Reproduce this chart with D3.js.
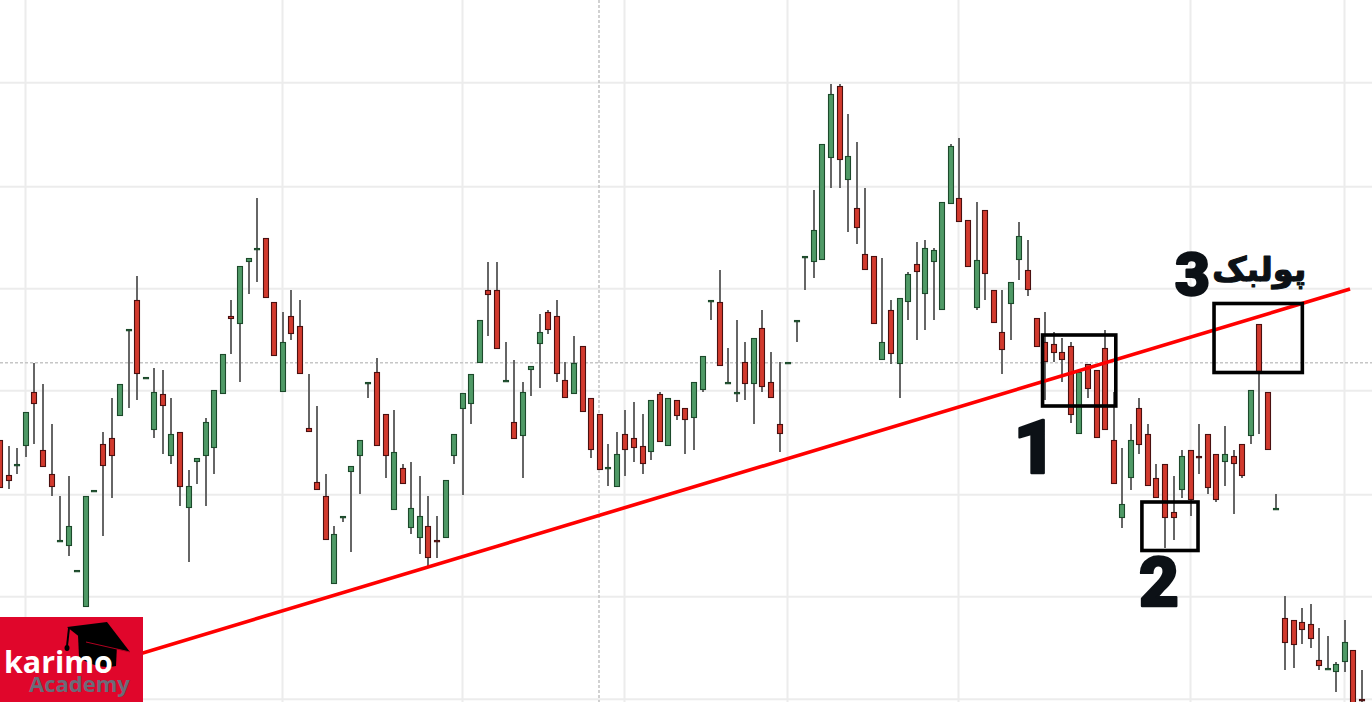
<!DOCTYPE html>
<html><head><meta charset="utf-8">
<script src="https://cdn.jsdelivr.net/npm/d3@7/dist/d3.min.js"></script>
<style>html,body{margin:0;padding:0;background:#fff;overflow:hidden}svg{display:block}</style>
</head><body><svg id="c" width="1372" height="702"></svg>
<script>
// ---- DATA (price units, higher = up) ----
const opens = [260,225,235,254,308,250,226,159,154,129,93,209,256,262,284,370,400,322,270,306,244,268,192,238,244,252,306,384,376,438,451,462,398,308,384,374,272,218,204,116,183,228,244,317,328,286,190,232,172,162,174,160,162,244,291,296,337,410,410,319,278,264,330,356,388,384,320,306,354,302,286,232,213,266,262,254,248,306,254,300,292,282,310,399,398,317,307,338,316,372,318,276,337,379,443,438,440,542,614,520,492,446,444,340,390,336,398,436,406,438,390,496,502,480,392,490,410,368,396,440,430,382,358,356,348,354,266,336,330,352,260,182,222,292,266,222,236,188,210,250,244,266,246,238,244,256,264,376,308,191,82,80,78,76,40,31,28,38,50,1];
const highs = [260,254,252,288,337,316,276,204,224,130,204,210,268,302,316,371,424,323,332,330,302,268,230,242,282,310,346,400,434,442,502,462,398,388,410,400,326,294,226,174,184,234,260,318,342,286,290,236,238,224,204,184,220,266,307,326,380,438,438,358,340,318,334,386,390,400,338,364,354,302,286,256,268,290,298,286,300,308,302,300,292,318,344,400,430,352,380,358,362,390,348,338,338,380,444,510,556,616,616,586,558,512,444,442,400,402,428,458,460,452,498,556,562,480,498,490,410,410,418,478,460,382,388,368,362,358,328,336,330,370,308,252,276,302,276,236,236,224,250,250,276,266,246,274,250,256,310,376,308,206,104,80,92,96,72,64,38,80,50,30];
const lows = [212,211,226,243,256,233,204,159,144,129,93,209,164,202,284,292,300,322,262,246,236,194,138,216,194,226,306,346,318,406,418,402,344,308,360,326,268,210,160,116,178,148,206,302,254,222,190,216,166,146,132,142,162,236,205,276,337,364,351,319,261,222,304,312,366,318,302,306,288,242,230,214,213,224,238,226,240,258,254,280,246,250,308,380,334,317,298,300,276,308,302,248,337,358,410,422,440,512,512,468,456,430,376,340,336,302,380,360,370,380,390,496,478,433,390,400,377,326,360,420,404,353,300,338,318,277,266,302,262,270,216,172,210,246,214,202,152,160,202,184,226,206,198,214,186,222,256,266,250,191,30,32,56,52,30,31,8,28,-4,-4];
const closes = [212,219,236,288,296,233,213,160,174,130,204,210,234,244,316,371,326,323,308,294,266,213,214,242,278,310,346,381,434,442,452,402,344,358,366,326,268,210,160,166,184,234,260,318,254,244,248,216,192,184,142,159,220,266,307,326,380,405,351,320,261,308,334,368,370,326,302,337,288,250,230,233,246,250,252,236,300,258,302,284,280,318,344,400,334,318,308,316,362,313,302,266,338,380,444,470,556,606,540,544,472,430,376,358,346,402,426,428,452,450,498,554,478,433,440,426,377,350,418,464,410,353,338,347,340,285,328,311,262,270,216,196,260,255,214,202,182,182,244,200,243,212,200,246,236,224,310,327,250,192,57,55,70,61,34,32,36,58,-4,0];
const priceGrid = [0.7, 103.3, 205.3, 309.3, 411.3, 513.3, 617.3];
const timeGrid = [3, 33, 54, 73, 92, 112, 139, 157];
const crosshair = {index: 70, price: 337.3};
const trendLine = [{i: 0, p: 4}, {i: 157.6, p: 411}];
const boxes = [
  {i0: 121.7, i1: 130.25, p0: 294, p1: 365},
  {i0: 133.3, i1: 139.85, p0: 149.5, p1: 198},
  {i0: 141.72, i1: 152.03, p0: 327.5, p1: 396.5}
];
const labels = [
  {text: "1", i: 120.8, p: 227, size: 74},
  {text: "2", i: 135.3, p: 94, size: 69},
  {text: "3", i: 139.2, p: 405.5, size: 60}
];
const pullbackLabel = {text: "پولبک", i: 147.0, p: 419, width: 94};

// ---- SCALES ----
const W = 1372, H = 702;
const x = d3.scaleLinear().domain([0, 159]).range([0.2, 0.2 + 159 * 8.565]);
const y = d3.scaleLinear().domain([0, 700]).range([700, 0]);
const svg = d3.select('#c');

const data = opens.map((o, i) => ({i, o, h: highs[i], l: lows[i], c: closes[i]}));

// grid
const g = svg.append('g');
g.selectAll('.hg').data(priceGrid).join('line')
  .attr('x1', 0).attr('x2', W).attr('y1', d => y(d)).attr('y2', d => y(d))
  .attr('stroke', '#ececec').attr('stroke-width', 2);
g.selectAll('.vg').data(timeGrid).join('line')
  .attr('y1', 0).attr('y2', H).attr('x1', d => Math.round(x(d)) - 0.5).attr('x2', d => Math.round(x(d)) - 0.5)
  .attr('stroke', '#ececec').attr('stroke-width', 2);
// crosshair
g.append('line').attr('x1', 0).attr('x2', W).attr('y1', y(crosshair.price)).attr('y2', y(crosshair.price))
  .attr('stroke', '#c6c6c6').attr('stroke-width', 1.6).attr('stroke-dasharray', '3,2');
g.append('line').attr('y1', 0).attr('y2', H).attr('x1', Math.round(x(crosshair.index)) - 1).attr('x2', Math.round(x(crosshair.index)) - 1)
  .attr('stroke', '#c6c6c6').attr('stroke-width', 1.6).attr('stroke-dasharray', '3,2');

// candles
const cg = svg.append('g');
const up = d => d.c >= d.o;
cg.selectAll('.wick').data(data).join('line')
  .attr('x1', d => Math.round(x(d.i))).attr('x2', d => Math.round(x(d.i)))
  .attr('y1', d => y(d.h)).attr('y2', d => y(d.l))
  .attr('stroke', '#666').attr('stroke-width', 2);
cg.selectAll('.body').data(data).join('rect')
  .attr('x', d => Math.round(x(d.i)) - 2.5)
  .attr('width', 5)
  .attr('y', d => y(Math.max(d.o, d.c)) + 0.5)
  .attr('height', d => Math.max(1.2, Math.abs(y(d.o) - y(d.c)) - 1))
  .attr('fill', d => up(d) ? '#4f9a66' : '#d23a2e')
  .attr('stroke', d => up(d) ? '#1c4a2b' : '#4a1010')
  .attr('stroke-width', 1.1);

// trend line
svg.append('line')
  .attr('x1', x(trendLine[0].i)).attr('y1', y(trendLine[0].p))
  .attr('x2', x(trendLine[1].i)).attr('y2', y(trendLine[1].p))
  .attr('stroke', '#ff0000').attr('stroke-width', 3.6).attr('stroke-linecap', 'butt');

// boxes
svg.selectAll('.box').data(boxes).join('rect')
  .attr('x', d => x(d.i0)).attr('width', d => x(d.i1) - x(d.i0))
  .attr('y', d => y(d.p1)).attr('height', d => y(d.p0) - y(d.p1))
  .attr('fill', 'none').attr('stroke', '#000').attr('stroke-width', 3.6);

// labels
svg.selectAll('.lbl').data(labels).join('text')
  .attr('x', d => x(d.i)).attr('y', d => y(d.p))
  .attr('text-anchor', 'middle')
  .attr('font-family', 'Roboto, "DejaVu Sans", sans-serif')
  .attr('font-weight', 900)
  .attr('font-size', d => d.size)
  .attr('fill', '#0c1116')
  .attr('stroke', '#0c1116').attr('stroke-width', 2.4).attr('stroke-linejoin', 'round')
  .text(d => d.text);
const pb = svg.append('text')
  .attr('x', x(pullbackLabel.i)).attr('y', y(pullbackLabel.p))
  .attr('text-anchor', 'middle')
  .attr('font-family', '"DejaVu Sans", sans-serif')
  .attr('font-weight', 700)
  .attr('font-size', 42)
  .attr('fill', '#0c1116')
  .attr('stroke', '#0c1116').attr('stroke-width', 1.2).attr('stroke-linejoin', 'round')
  .text(pullbackLabel.text);
function fit(sel, w) {
  const L = sel.node().getComputedTextLength();
  if (L > 0) sel.attr('font-size', parseFloat(sel.attr('font-size')) * w / L);
}
fit(pb, pullbackLabel.width);

// logo
const lg = svg.append('g');
lg.append('rect').attr('x', 0).attr('y', 617).attr('width', 143).attr('height', 85).attr('fill', '#e0062b');
lg.append('path').attr('d', 'M78,635 L79,657 Q96,670 116,666 L117,645 Z').attr('fill', '#000');
lg.append('path').attr('d', 'M67,627 L107,622 L130,652 L86,642 Z').attr('fill', '#000');
lg.append('path').attr('d', 'M86,642 L130,652').attr('stroke', '#b00020').attr('stroke-width', 1);
lg.append('path').attr('d', 'M69,628 L67,646').attr('stroke', '#000').attr('stroke-width', 2);
lg.append('ellipse').attr('cx', 67).attr('cy', 648).attr('rx', 2.5).attr('ry', 3).attr('fill', '#000');
const k = lg.append('text').attr('x', 4).attr('y', 673)
  .attr('font-family', '"Open Sans", sans-serif').attr('font-weight', 700)
  .attr('font-size', 32).attr('fill', '#ffffff').text('karimo');
fit(k, 109);
const a = lg.append('text').attr('x', 29).attr('y', 692)
  .attr('font-family', '"Open Sans", sans-serif').attr('font-weight', 700)
  .attr('font-size', 21).attr('fill', '#6b6b78').text('Academy');
fit(a, 101);
</script></body></html>
